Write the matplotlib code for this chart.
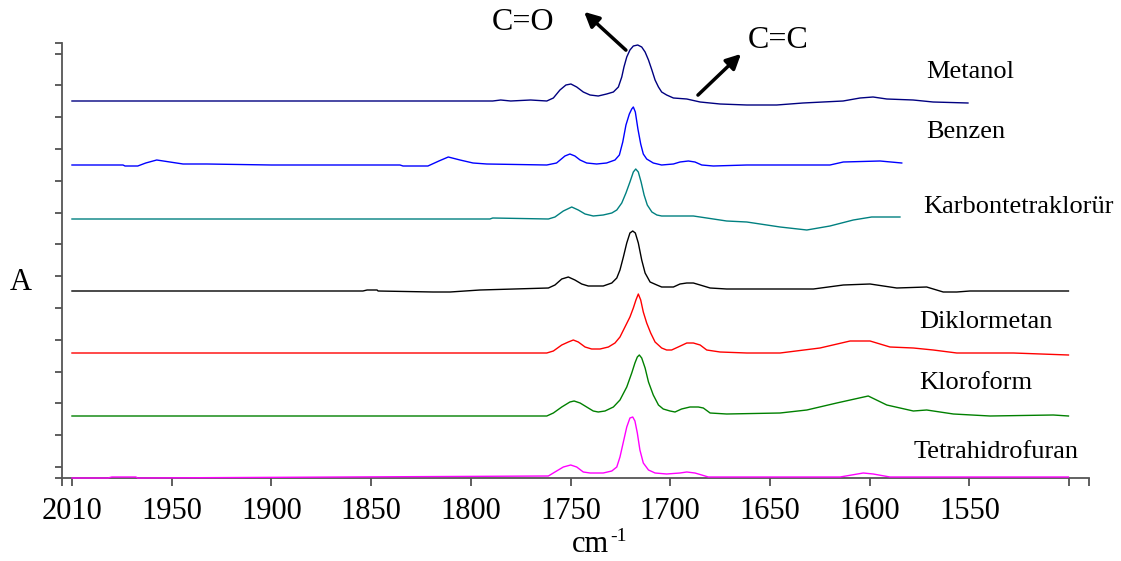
import matplotlib
matplotlib.use('Agg')
import matplotlib.pyplot as plt
import numpy as np

plt.rcParams['font.family'] = ['Liberation Serif', 'DejaVu Serif']

# wavenumber (cm-1) and stacked absorbance (offset units)
wn_metanol = [2000, 1789, 1785, 1780, 1770, 1761.9, 1758.6, 1755.3, 1752.3, 1749.8, 1746.9, 1743.6,
              1740.2, 1736.1, 1731.9, 1728.5, 1726.0, 1724.3, 1723.2, 1721.8, 1720.2, 1718.5, 1716.3,
              1714.3, 1712.6, 1710.9, 1709.2, 1707.6, 1705.9, 1704.3, 1701.8, 1698.4, 1691.7, 1685.0,
              1675.0, 1661.6, 1646.6, 1633.4, 1623.4, 1613.3, 1604.8, 1598.3, 1591.4, 1578.2, 1568.2,
              1550.7]
a_metanol = [3.77, 3.77, 3.78, 3.77, 3.78, 3.77, 3.80, 3.88, 3.93, 3.94, 3.91, 3.86,
             3.83, 3.82, 3.84, 3.86, 3.91, 4.01, 4.11, 4.21, 4.28, 4.32, 4.33,
             4.31, 4.26, 4.18, 4.08, 3.98, 3.91, 3.86, 3.83, 3.80, 3.79, 3.76,
             3.74, 3.73, 3.73, 3.75, 3.76, 3.77, 3.80, 3.81, 3.79, 3.78, 3.76,
             3.75]

wn_benzen = [2000, 1974.4, 1973.4, 1967, 1963, 1957.5, 1950.9, 1944.3, 1932.4, 1900, 1835.5, 1834,
             1821.5, 1816, 1811.3, 1805.4, 1798.9, 1792, 1761.9, 1757.0, 1752.8, 1750.3, 1747.8,
             1745.2, 1741.9, 1736.9, 1731.9, 1727.7, 1725.5, 1723.8, 1722.2, 1720.5, 1719.3, 1718.5,
             1717.5, 1716.2, 1714.8, 1713.5, 1711.8, 1708.5, 1704.3, 1698.4, 1695.1, 1690.9, 1687.6,
             1684.2, 1678.4, 1661.6, 1619.9, 1613.2, 1594.8, 1583.9]
a_benzen = [3.13, 3.13, 3.12, 3.12, 3.15, 3.18, 3.16, 3.14, 3.14, 3.13, 3.13, 3.12,
            3.12, 3.17, 3.21, 3.18, 3.15, 3.14, 3.13, 3.15, 3.22, 3.24, 3.22,
            3.18, 3.15, 3.14, 3.15, 3.18, 3.23, 3.36, 3.53, 3.64, 3.69, 3.71,
            3.66, 3.49, 3.34, 3.24, 3.19, 3.15, 3.13, 3.14, 3.16, 3.17, 3.16,
            3.13, 3.12, 3.13, 3.13, 3.16, 3.17, 3.15]

wn_ccl4 = [2000, 1790.4, 1789, 1761.1, 1757.8, 1753.6, 1749.4, 1746.1, 1742.7, 1738.6, 1733.6, 1729.3,
           1726.8, 1724.3, 1722.2, 1720.2, 1718.5, 1717.3, 1716.0, 1714.6, 1713.1, 1711.5, 1709.2,
           1706.7, 1704.3, 1695.1, 1688.4, 1681.7, 1671.7, 1661.6, 1644.9, 1631.5, 1619.9, 1608.2,
           1599, 1584.8]
a_ccl4 = [2.59, 2.59, 2.60, 2.59, 2.61, 2.67, 2.71, 2.68, 2.64, 2.62, 2.63, 2.65,
          2.68, 2.75, 2.85, 2.96, 3.06, 3.09, 3.06, 2.96, 2.83, 2.73, 2.66,
          2.63, 2.62, 2.62, 2.62, 2.60, 2.57, 2.56, 2.51, 2.48, 2.52, 2.58,
          2.61, 2.61]

wn_black = [2000, 1854.1, 1852, 1847, 1846.5, 1819, 1810.4, 1795.4, 1761.1, 1757.8, 1754.4, 1751.1,
            1747.8, 1744.4, 1741.1, 1733.6, 1729.3, 1726.8, 1725.2, 1723.5, 1721.8, 1720.2, 1718.8,
            1717.5, 1716.0, 1714.3, 1712.6, 1710.1, 1706.7, 1704.3, 1698.4, 1695.1, 1691.7, 1688.4,
            1685.0, 1680.0, 1671.7, 1644.9, 1628.2, 1613.2, 1599.8, 1586.4, 1571.4, 1563.1, 1556.3,
            1549.7, 1500.3]
a_black = [1.87, 1.87, 1.88, 1.88, 1.87, 1.86, 1.86, 1.88, 1.90, 1.93, 1.99, 2.01,
           1.98, 1.94, 1.92, 1.92, 1.95, 2.00, 2.08, 2.21, 2.35, 2.45, 2.47,
           2.45, 2.35, 2.18, 2.05, 1.96, 1.93, 1.91, 1.91, 1.94, 1.95, 1.95,
           1.93, 1.90, 1.89, 1.89, 1.89, 1.93, 1.94, 1.90, 1.91, 1.86, 1.86,
           1.87, 1.87]

wn_dcm = [2000, 1761.9, 1758.6, 1754.4, 1751.1, 1748.6, 1746.1, 1742.7, 1739.4, 1735.2, 1731.0, 1727.7,
          1725.2, 1722.7, 1720.2, 1718.5, 1717.2, 1716.0, 1714.8, 1713.5, 1711.8, 1709.8, 1707.6,
          1704.3, 1701.8, 1699.3, 1696.0, 1691.7, 1688.4, 1685.0, 1681.7, 1675.0, 1661.6, 1644.9,
          1624.9, 1609.8, 1599.8, 1589.8, 1578.1, 1568.1, 1556.3, 1527.9, 1500.3]
a_dcm = [1.25, 1.25, 1.27, 1.33, 1.36, 1.38, 1.36, 1.31, 1.29, 1.29, 1.31, 1.35,
         1.41, 1.51, 1.61, 1.70, 1.78, 1.84, 1.78, 1.66, 1.55, 1.45, 1.36,
         1.30, 1.28, 1.28, 1.31, 1.35, 1.35, 1.33, 1.28, 1.26, 1.25, 1.25,
         1.30, 1.37, 1.37, 1.31, 1.30, 1.28, 1.25, 1.25, 1.23]

wn_chcl3 = [2000, 1761.9, 1758.6, 1754.4, 1750.3, 1748.2, 1745.2, 1741.9, 1738.6, 1736.1, 1732.7, 1728.5,
            1725.2, 1721.8, 1719.3, 1717.7, 1716.5, 1715.5, 1714.3, 1712.6, 1710.9, 1708.5, 1705.9,
            1703.5, 1700.1, 1697.6, 1694.3, 1690.1, 1685.9, 1683.4, 1680.0, 1671.7, 1644.9, 1631.5,
            1616.5, 1600.7, 1591.4, 1578.1, 1571.4, 1558.0, 1539.6, 1507.9, 1500.3]
a_chcl3 = [0.62, 0.62, 0.65, 0.71, 0.76, 0.77, 0.75, 0.71, 0.67, 0.66, 0.67, 0.71,
           0.78, 0.91, 1.05, 1.15, 1.21, 1.23, 1.20, 1.10, 0.96, 0.83, 0.73,
           0.69, 0.67, 0.66, 0.69, 0.71, 0.71, 0.70, 0.65, 0.64, 0.65, 0.68,
           0.75, 0.82, 0.73, 0.67, 0.68, 0.64, 0.62, 0.63, 0.62]

wn_thf = [2000, 1982, 1980, 1968, 1967, 1761.1, 1757.8, 1753.6, 1749.9, 1746.9, 1743.6, 1740.2,
          1733.6, 1729.3, 1726.8, 1725.2, 1723.5, 1721.8, 1720.2, 1718.8, 1717.7, 1716.5, 1715.2,
          1713.5, 1710.9, 1707.6, 1701.8, 1695.1, 1691.7, 1687.6, 1684.2, 1680.9, 1614.8, 1603.2,
          1598.2, 1589.8, 1500.3]
a_thf = [0.0, 0.0, 0.01, 0.01, 0.0, 0.02, 0.06, 0.11, 0.13, 0.11, 0.06, 0.05,
         0.05, 0.07, 0.11, 0.21, 0.36, 0.51, 0.60, 0.61, 0.57, 0.45, 0.28,
         0.15, 0.08, 0.05, 0.04, 0.05, 0.06, 0.05, 0.03, 0.01, 0.01, 0.05,
         0.04, 0.01, 0.01]

traces = [
    (wn_metanol, a_metanol, '#000080'),
    (wn_benzen, a_benzen, '#0000ff'),
    (wn_ccl4, a_ccl4, '#008080'),
    (wn_black, a_black, '#000000'),
    (wn_dcm, a_dcm, '#ff0000'),
    (wn_chcl3, a_chcl3, '#008000'),
    (wn_thf, a_thf, '#ff00ff'),
]

names = ['Metanol', 'Benzen', 'Karbontetraklorür', 'Diklormetan', 'Kloroform', 'Tetrahidrofuran']
name_x = [1571.7, 1571.7, 1573.2, 1575.2, 1575.2, 1578.2]
name_y = [4.06, 3.46, 2.71, 1.56, 0.95, 0.26]

xticks = [2000, 1950, 1900, 1850, 1800, 1750, 1700, 1650, 1600, 1550, 1500]
xlabels = ['2010', '1950', '1900', '1850', '1800', '1750', '1700', '1650', '1600', '1550', '']

fig = plt.figure(figsize=(11.21, 5.61), dpi=100)
ax = fig.add_axes([62 / 1121, 83 / 561, 1027 / 1121, 435 / 561])

for x, y, c in traces:
    ax.plot(x, y, color=c, lw=1.0, clip_on=False, zorder=3)

ax.set_xlim(2005, 1490)
ax.set_ylim(0, 4.35)

for s in ['top', 'right']:
    ax.spines[s].set_visible(False)
for s in ['left', 'bottom']:
    ax.spines[s].set_color('#555555')
    ax.spines[s].set_linewidth(1.3)

ax.set_xticks([2005] + xticks + [1490])
ax.set_xticklabels([''] + xlabels + [''], fontsize=22)
ax.tick_params(axis='x', direction='out', length=6, width=1.1, color='#333333', pad=8)
yt = list(np.arange(0.11, 4.3, 0.318)) + [0, 4.35]
ax.set_yticks(yt)
ax.set_yticklabels([])
ax.tick_params(axis='y', direction='out', length=5, width=1.1, color='#333333')

for n, xx, yy in zip(names, name_x, name_y):
    ax.text(xx, yy, n, fontsize=19, ha='left', va='center')

# band assignments
ax.annotate('', xy=(1744.2, 4.68), xytext=(1721.2, 4.26), annotation_clip=False,
            arrowprops=dict(arrowstyle='-|>', color='black', lw=2.5, mutation_scale=22))
ax.annotate('', xy=(1663.5, 4.26), xytext=(1687.1, 3.81), annotation_clip=False,
            arrowprops=dict(arrowstyle='-|>', color='black', lw=2.5, mutation_scale=22))
ax.text(1773.8, 4.56, 'C=O', fontsize=23, ha='center', va='center', clip_on=False)
ax.text(1645.9, 4.37, 'C=C', fontsize=23, ha='center', va='center', clip_on=False)

fig.text(21 / 1121, 1 - 282 / 561, 'A', fontsize=22, ha='center', va='center')
fig.text(590 / 1121, 1 - 552 / 561, 'cm', fontsize=22, ha='center', va='baseline')
fig.text(610 / 1121, 1 - 541 / 561, '-1', fontsize=14, ha='left', va='baseline')

fig.savefig('out.png', dpi=100)
